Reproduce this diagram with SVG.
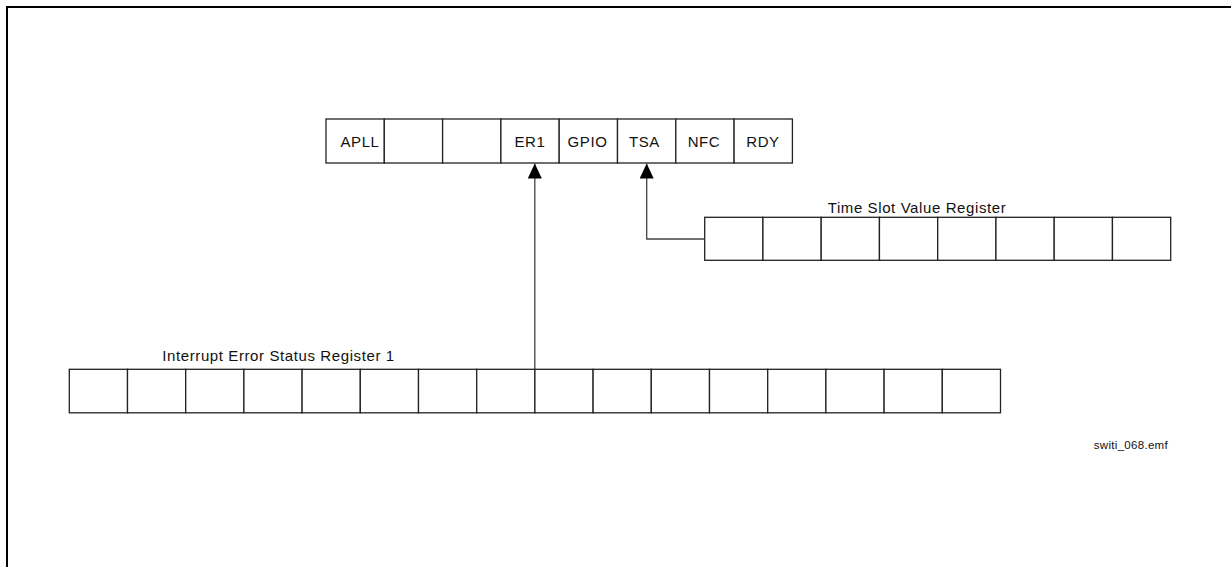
<svg xmlns="http://www.w3.org/2000/svg" width="1231" height="567" viewBox="0 0 1231 567">
<defs>
<style>
.cell{fill:#fff;stroke:#222;stroke-width:1.3}
.t{font-family:"Liberation Sans",Arial,sans-serif;font-size:15px;letter-spacing:0.6px;fill:#111}
.lbl{font-family:"Liberation Sans",Arial,sans-serif;font-size:15px;letter-spacing:0.6px;fill:#111}
.conn{fill:none;stroke:#444;stroke-width:1.3}
</style>
<marker id="ah" markerWidth="15" markerHeight="14" refX="15" refY="7" orient="auto" markerUnits="userSpaceOnUse" viewBox="0 0 15 14">
<path d="M0,0 L15,7 L0,14 Z" fill="#000"/>
</marker>
</defs>
<rect width="1231" height="567" fill="#fff"/>
<path d="M7,567 V7 H1231" fill="none" stroke="#000" stroke-width="2"/>

<g id="top-register">
<rect class="cell" x="326" y="119" width="58.3" height="44"/>
<rect class="cell" x="384.3" y="119" width="58.3" height="44"/>
<rect class="cell" x="442.6" y="119" width="58.3" height="44"/>
<rect class="cell" x="500.9" y="119" width="58.3" height="44"/>
<rect class="cell" x="559.2" y="119" width="58.3" height="44"/>
<rect class="cell" x="617.5" y="119" width="58.3" height="44"/>
<rect class="cell" x="675.8" y="119" width="58.3" height="44"/>
<rect class="cell" x="734.1" y="119" width="58.3" height="44"/>
<text class="t" x="360" y="146.5" text-anchor="middle">APLL</text>
<text class="t" x="530" y="146.5" text-anchor="middle">ER1</text>
<text class="t" x="587.5" y="146.5" text-anchor="middle">GPIO</text>
<text class="t" x="644.5" y="146.5" text-anchor="middle">TSA</text>
<text class="t" x="704" y="146.5" text-anchor="middle">NFC</text>
<text class="t" x="763" y="146.5" text-anchor="middle">RDY</text>
</g>

<g id="time-slot-register">
<text class="lbl" x="917" y="213" text-anchor="middle">Time Slot Value Register</text>
<rect class="cell" x="704.7" y="217.3" width="58.25" height="43"/>
<rect class="cell" x="762.95" y="217.3" width="58.25" height="43"/>
<rect class="cell" x="821.2" y="217.3" width="58.25" height="43"/>
<rect class="cell" x="879.45" y="217.3" width="58.25" height="43"/>
<rect class="cell" x="937.7" y="217.3" width="58.25" height="43"/>
<rect class="cell" x="995.95" y="217.3" width="58.25" height="43"/>
<rect class="cell" x="1054.2" y="217.3" width="58.25" height="43"/>
<rect class="cell" x="1112.45" y="217.3" width="58.25" height="43"/>
</g>

<g id="interrupt-error-status-register">
<text class="lbl" x="278.5" y="361" text-anchor="middle">Interrupt Error Status Register 1</text>
<rect class="cell" x="69.3" y="369.3" width="58.2" height="43.5"/>
<rect class="cell" x="127.5" y="369.3" width="58.2" height="43.5"/>
<rect class="cell" x="185.7" y="369.3" width="58.2" height="43.5"/>
<rect class="cell" x="243.9" y="369.3" width="58.2" height="43.5"/>
<rect class="cell" x="302.1" y="369.3" width="58.2" height="43.5"/>
<rect class="cell" x="360.3" y="369.3" width="58.2" height="43.5"/>
<rect class="cell" x="418.5" y="369.3" width="58.2" height="43.5"/>
<rect class="cell" x="476.7" y="369.3" width="58.2" height="43.5"/>
<rect class="cell" x="534.9" y="369.3" width="58.2" height="43.5"/>
<rect class="cell" x="593.1" y="369.3" width="58.2" height="43.5"/>
<rect class="cell" x="651.3" y="369.3" width="58.2" height="43.5"/>
<rect class="cell" x="709.5" y="369.3" width="58.2" height="43.5"/>
<rect class="cell" x="767.7" y="369.3" width="58.2" height="43.5"/>
<rect class="cell" x="825.9" y="369.3" width="58.2" height="43.5"/>
<rect class="cell" x="884.1" y="369.3" width="58.2" height="43.5"/>
<rect class="cell" x="942.3" y="369.3" width="58.2" height="43.5"/>
</g>

<g id="connectors">
<path class="conn" d="M534.8,369.3 V163.5" marker-end="url(#ah)"/>
<path class="conn" d="M704.7,239 H646.7 V163.5" marker-end="url(#ah)"/>
</g>

<text id="filename" x="1168" y="449" text-anchor="end" font-family="'Liberation Sans',Arial,sans-serif" font-size="11.5" letter-spacing="0.3" fill="#111">switi_068.emf</text>
</svg>
